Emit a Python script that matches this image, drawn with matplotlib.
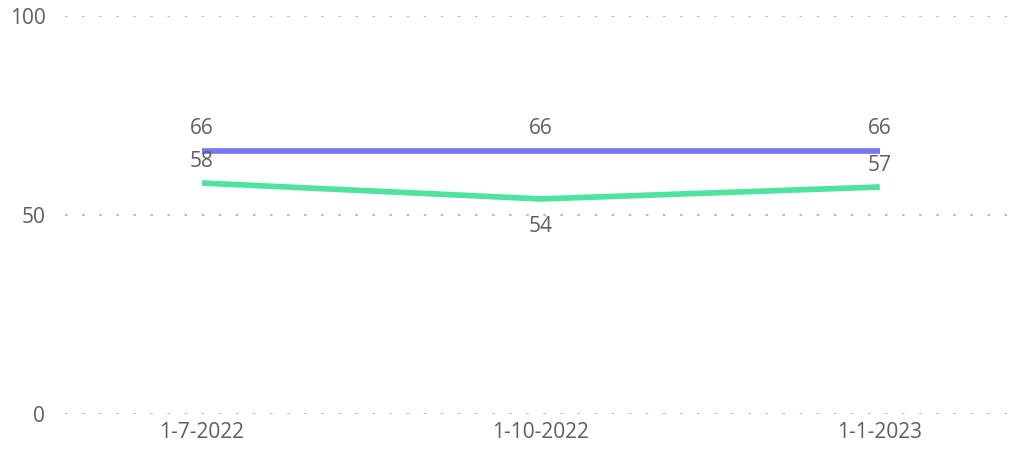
import matplotlib
matplotlib.use("Agg")
import matplotlib.pyplot as plt

categories = ["1-7-2022", "1-10-2022", "1-1-2023"]
series_purple = [66, 66, 66]
series_green = [58, 54, 57]
yticks = [0, 50, 100]

plt.rcParams['font.family'] = ['Open Sans', 'DejaVu Sans']
txt = '#605E5C'

fig = plt.figure(figsize=(10.12, 4.5), dpi=100)
ax = fig.add_axes([0.064, 0.08, 0.936, 0.885])
x = list(range(len(categories)))
ax.plot(x, series_purple, color='#7777EE', lw=4.1, solid_capstyle='butt', zorder=3)
ax.plot(x, series_green, color='#4FE3A0', lw=4.1, solid_capstyle='butt', zorder=3)

fs = 15
for i, v in enumerate(series_purple):
    ax.annotate(str(v), (i, v), xytext=(0, 9), textcoords='offset points',
                ha='center', va='bottom', color=txt, fontsize=fs)
for i, v in enumerate(series_green):
    if i == 1:
        ax.annotate(str(v), (i, v), xytext=(0, -12), textcoords='offset points',
                    ha='center', va='top', color=txt, fontsize=fs)
    else:
        ax.annotate(str(v), (i, v), xytext=(0, 8), textcoords='offset points',
                    ha='center', va='bottom', color=txt, fontsize=fs)

ax.set_ylim(0, 100)
ax.set_xlim(-0.405, 2.39)
ax.set_yticks(yticks)
ax.set_xticks(x)
ax.set_xticklabels(categories)
ax.tick_params(axis='both', length=0, labelsize=fs, colors=txt)
ax.tick_params(axis='y', pad=14)
ax.tick_params(axis='x', pad=6)
ax.grid(axis='y', color='#BBBBBB', linestyle=(0, (1.2, 7)), lw=1.5)
ax.grid(axis='x', visible=False)
for s in ax.spines.values():
    s.set_visible(False)

fig.savefig("out.png", dpi=100)
